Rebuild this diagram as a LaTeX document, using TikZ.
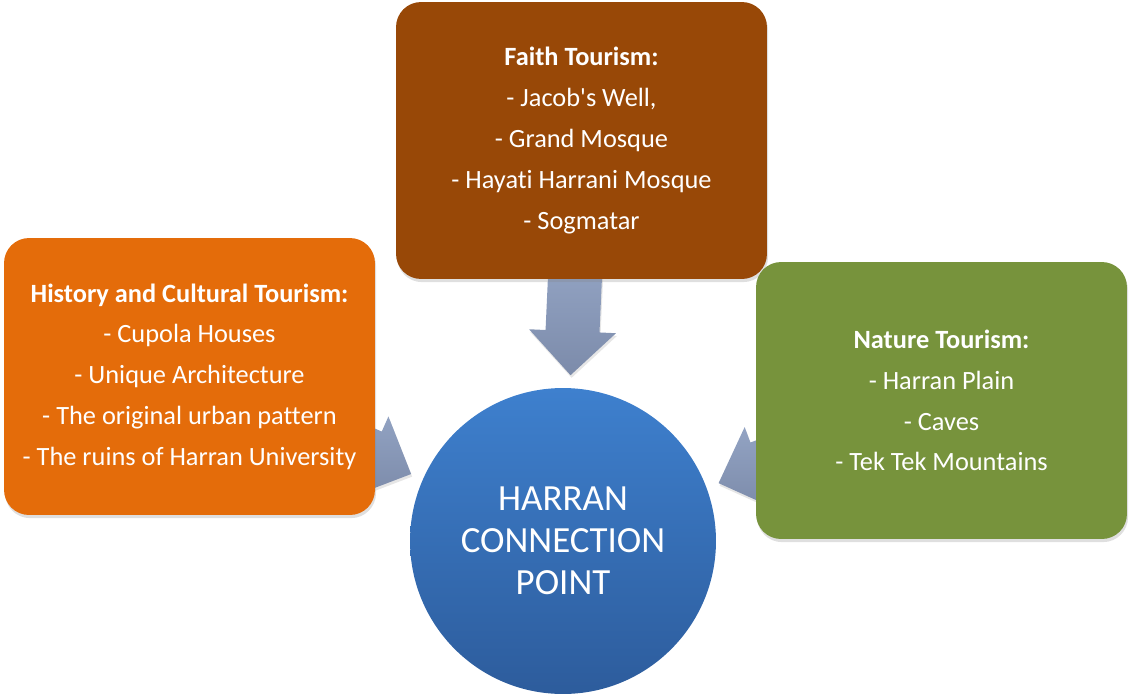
\documentclass[tikz,border=0pt]{standalone}
\usepackage{fontspec}
\setmainfont{Carlito}[Ligatures={TeX,NoCommon}]
\usetikzlibrary{calc,shadows}

\definecolor{faithbrown}{HTML}{984807}
\definecolor{historyorange}{HTML}{E46C0A}
\definecolor{naturegreen}{HTML}{77933C}
\definecolor{hubtop}{HTML}{3E80CE}
\definecolor{hubbottom}{HTML}{2D5C9C}
\definecolor{arrowtop}{HTML}{97A8C8}
\definecolor{arrowbottom}{HTML}{7C8BAA}

\begin{document}
\begin{tikzpicture}[x=0.02cm, y=-0.02cm,
    tourbox/.style={rounded corners=0.5cm, minimum width=7.42cm, minimum height=5.54cm,
        text=white, align=center, font=\fontsize{15}{23.2}\selectfont,
        drop shadow={opacity=0.25, shadow xshift=0.6pt, shadow yshift=-1.8pt}},
    hubcircle/.style={circle, minimum size=6.12cm, inner sep=0pt, text=white, align=center,
        top color=hubtop, bottom color=hubbottom, font=\fontsize{21}{23.8}\selectfont},
    blockarrow/.style={top color=arrowtop, bottom color=arrowbottom,
        drop shadow={opacity=0.2, shadow xshift=0.6pt, shadow yshift=-1.5pt}}]
    \useasboundingbox (0,0) rectangle (1129,697);

    \node[hubcircle] (hub) at (563,541) {HARRAN\\CONNECTION\\POINT};

    \foreach \a in {-87.4, 203.8, -20.4} {
        \path[blockarrow] ($(hub.center)+(\a:166)$)
            -- ($(hub.center)+(\a:210)+(\a+90:43.5)$) -- ($(hub.center)+(\a:210)+(\a+90:27)$)
            -- ($(hub.center)+(\a:300)+(\a+90:27)$) -- ($(hub.center)+(\a:300)+(\a-90:27)$)
            -- ($(hub.center)+(\a:210)+(\a-90:27)$) -- ($(hub.center)+(\a:210)+(\a-90:43.5)$)
            -- cycle;
    }

    \node[tourbox, fill=faithbrown] (faith) at (581.5,140.5)
        {\textbf{Faith Tourism:}\\- Jacob\textquotesingle s Well,\\- Grand Mosque\\- Hayati Harrani Mosque\\- Sogmatar};
    \node[tourbox, fill=historyorange] (history) at (189.5,376.5)
        {\textbf{History and Cultural Tourism:}\\- Cupola Houses\\- Unique Architecture\\- The original urban pattern\\- The ruins of Harran University};
    \node[tourbox, fill=naturegreen] (nature) at (941.5,400.5)
        {\textbf{Nature Tourism:}\\- Harran Plain\\- Caves\\- Tek Tek Mountains};
\end{tikzpicture}
\end{document}
